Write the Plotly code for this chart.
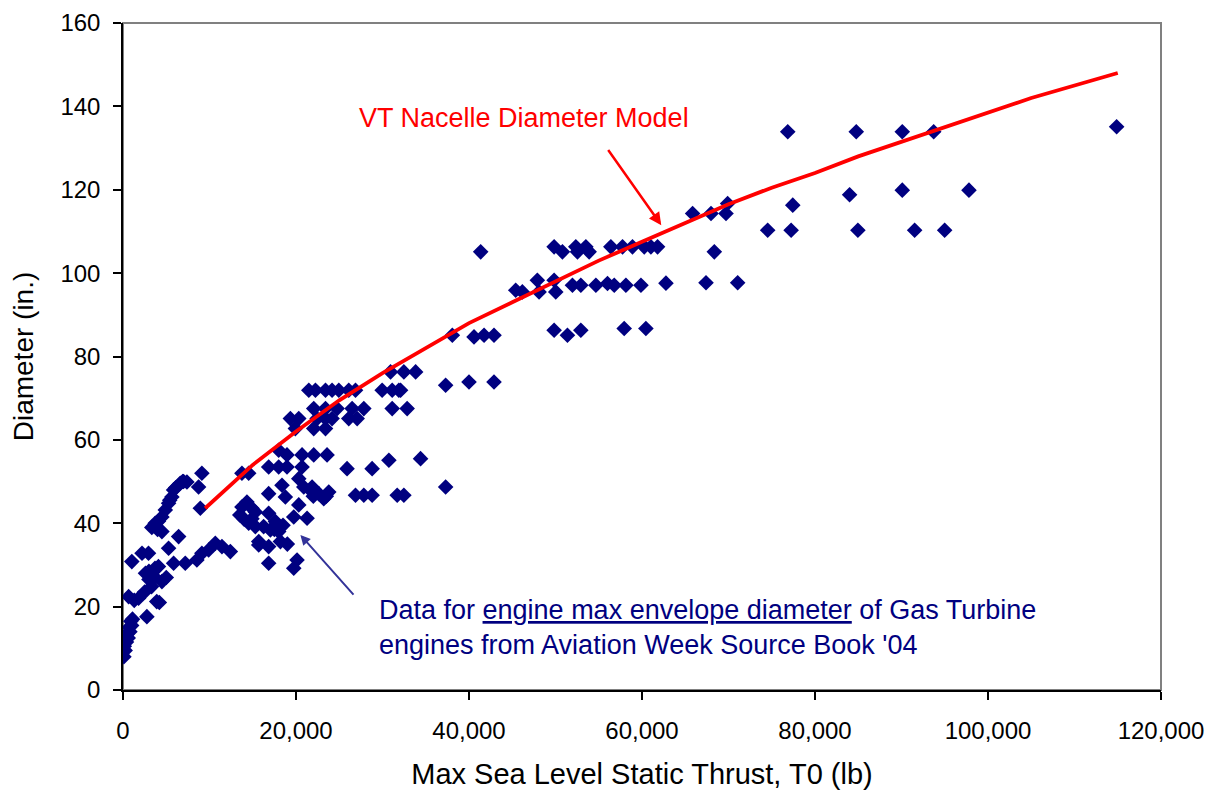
import plotly.graph_objects as go

# Engine data: max sea level static thrust (lb) and max envelope diameter (in.)
thrust_lb = [
    100, 250, 150, 400, 300, 600, 500, 800, 700, 1000, 900, 1100,
    650, 1300, 1800, 2760, 3900, 4200,
    2500, 3300, 3000, 2600, 3000, 3700, 4100, 5000, 4500, 3700,
    2200, 2950, 1020, 5270, 6430, 5850, 7200, 8540, 9120, 9900, 10670, 11440, 12410,
    3330, 3720, 4100, 4500, 4890, 5270, 5650, 5850, 6620, 7390, 6900, 4500, 8740, 9120, 8940,
    4000, 5400, 6100, 7000,
    13750, 14530, 13750, 14330, 14910, 15300, 14910, 15300, 14530, 15690, 13500, 14000,
    16840, 17620, 17040, 16260, 20320, 19740, 21280, 15690, 16840, 18200, 16840, 20120, 19740,
    18380, 16840, 18770, 20320, 20900, 21860, 22630, 23790, 23210, 21670, 17500, 18500, 19000, 18000,
    16840, 18000, 18960, 20700, 18000, 18960, 20700, 22050, 23590, 25900, 28800, 30740, 34400,
    19930, 22050, 23410, 19350, 20320, 22440, 23410, 24170, 26100, 27070,
    22050, 23410, 24750, 26490, 27840, 31120, 32850,
    21480, 22250, 23410, 24170, 24950, 26100, 26880, 29960, 31120, 32090, 31890,
    30930, 32470, 33830, 37300, 40000, 42890,
    26880, 27840, 28800, 31700, 32470, 37300, 22000, 23500,
    38070, 40580, 41740, 42890, 49840, 51380, 52930, 57940, 60450,
    45400, 46170, 47900, 48100, 49840, 50030, 51960, 52930, 54670, 56010, 56790, 58140, 59880, 62770,
    41350, 49840, 50800, 52350, 52540, 53510, 53890, 56400, 57750, 58900, 60260, 61030, 61800,
    65850, 67980, 69900, 69710, 68360, 67400, 71060, 74530, 77240, 77430, 76850, 84770, 84000,
    84960, 90090, 90090, 91520, 93720, 94990, 97800, 114870,
]
diameter_in = [
    8.0, 9.5, 10.5, 11.5, 12.5, 12.5, 13.5, 14.0, 15.0, 15.5, 16.5, 17.0,
    22.4, 21.5, 22.0, 17.6, 21.2, 21.0,
    23.5, 24.8, 26.5, 28.0, 28.5, 29.2, 29.6, 27.0, 26.0, 27.0,
    32.8, 32.8, 30.8, 34.0, 36.8, 30.4, 30.4, 31.2, 32.8, 33.6, 35.2, 34.4, 33.2,
    39.0, 40.0, 40.5, 41.5, 43.2, 44.8, 46.3, 48.0, 49.6, 49.9, 50.0, 38.0, 48.7, 52.0, 43.6,
    38.5, 45.5, 48.5, 50.0,
    52.0, 52.0, 43.9, 45.1, 43.6, 42.7, 41.1, 39.2, 40.0, 34.8, 42.0, 41.0,
    42.4, 40.4, 38.4, 39.2, 44.4, 41.5, 41.2, 35.6, 34.4, 35.6, 30.4, 31.2, 29.2,
    49.1, 47.1, 46.3, 50.7, 48.7, 48.7, 47.1, 47.5, 45.9, 47.9, 38.5, 39.5, 35.0, 38.0,
    53.5, 53.5, 53.5, 53.5, 57.5, 56.4, 56.4, 56.4, 56.4, 53.1, 53.1, 55.1, 55.5,
    62.7, 62.7, 62.7, 65.1, 65.1, 65.1, 65.1, 65.1, 65.1, 65.1,
    67.5, 67.5, 67.5, 67.5, 67.5, 67.5, 67.5,
    71.9, 71.9, 71.9, 71.9, 71.9, 71.9, 71.9, 71.9, 71.9, 71.9, 71.9,
    76.3, 76.3, 76.3, 73.1, 73.9, 73.9,
    46.7, 46.7, 46.7, 46.7, 46.7, 48.7, 46.5, 46.5,
    85.1, 84.7, 85.1, 85.1, 86.3, 85.1, 86.3, 86.7, 86.7,
    95.9, 95.5, 98.3, 95.5, 98.3, 95.5, 97.1, 97.1, 97.1, 97.5, 97.1, 97.1, 97.1, 97.6,
    105.1, 106.3, 105.1, 106.3, 105.1, 106.3, 105.1, 106.3, 106.3, 106.3, 106.3, 106.3, 106.3,
    114.3, 114.3, 116.7, 114.3, 105.1, 97.7, 97.7, 110.3, 110.3, 116.3, 133.9, 133.9, 118.8,
    110.3, 133.9, 119.9, 110.3, 133.9, 110.3, 119.9, 135.1,
]

# VT nacelle diameter model curve
model_thrust = [9500, 15000, 20000, 25000, 30000, 35000, 40000, 45000, 50000, 55000, 60000,
                65000, 70000, 75000, 80000, 85000, 90000, 95000, 100000, 105000, 110000, 115000]
model_diam = [43.6, 54.0, 62.0, 69.5, 76.0, 82.0, 88.0, 93.0, 98.0, 103.0, 107.5,
              112.0, 116.5, 120.5, 124.0, 128.0, 131.5, 135.0, 138.5, 142.0, 145.0, 148.0]

x_ticks = [0, 20000, 40000, 60000, 80000, 100000, 120000]
x_tick_labels = ["0", "20,000", "40,000", "60,000", "80,000", "100,000", "120,000"]
y_ticks = [0, 20, 40, 60, 80, 100, 120, 140, 160]

FONT = "Liberation Sans, Arial, sans-serif"

fig = go.Figure()
fig.add_trace(go.Scatter(
    x=thrust_lb, y=diameter_in, mode="markers",
    marker=dict(symbol="diamond", size=12, color="#000080", line=dict(width=0)),
    showlegend=False,
))
fig.add_trace(go.Scatter(
    x=model_thrust, y=model_diam, mode="lines",
    line=dict(color="#ff0000", width=3.8),
    showlegend=False,
))

# page body has an 8px margin, so the figure is sized/offset to compensate
fig.update_layout(
    width=1217, height=792,
    margin=dict(l=115, r=64, t=15, b=110, autoexpand=False),
    paper_bgcolor="white", plot_bgcolor="white",
    font=dict(family=FONT, size=24, color="black"),
    xaxis=dict(
        range=[0, 120000], tickvals=x_ticks, ticktext=x_tick_labels, automargin=False,
        showgrid=False, zeroline=False, showline=True, linecolor="black", linewidth=1.5,
        ticks="outside", ticklen=8, tickcolor="black", tickwidth=1.5,
        ticklabelstandoff=10,
        title=dict(text="Max Sea Level Static Thrust, T0 (lb)", font=dict(size=29), standoff=21),
    ),
    yaxis=dict(
        range=[0, 160], tickvals=y_ticks, automargin=False,
        showgrid=False, zeroline=False, showline=True, linecolor="black", linewidth=1.5,
        ticks="outside", ticklen=8, tickcolor="black", tickwidth=1.5,
        ticklabelstandoff=8,
        title=dict(text="Diameter (in.)", font=dict(size=28), standoff=21),
    ),
    shapes=[dict(type="rect", xref="paper", yref="paper", x0=0, x1=1, y0=0, y1=1,
                 line=dict(color="#808080", width=2), layer="below")],
)

fig.add_annotation(
    x=46370, y=137.1, xref="x", yref="y", text="VT Nacelle Diameter Model",
    showarrow=False, font=dict(size=27, color="#ff0000", family=FONT), xanchor="center",
)
fig.add_annotation(
    x=62230, y=111.5, ax=55970, ay=129.9, xref="x", yref="y", axref="x", ayref="y",
    text="", showarrow=True, arrowhead=2, arrowsize=1, arrowwidth=2.5, arrowcolor="#ff0000",
)
fig.add_annotation(
    x=29350, y=14.9, xref="x", yref="y",
    text="Data for <u>engine max envelope diameter</u> of Gas Turbine<br>engines from Aviation Week Source Book '04",
    showarrow=False, align="left", xanchor="left", yanchor="middle",
    font=dict(size=27, color="#000080", family=FONT),
)
fig.add_annotation(
    x=20510, y=37.2, ax=26800, ay=22.5, xref="x", yref="y", axref="x", ayref="y",
    text="", showarrow=True, arrowhead=2, arrowsize=1, arrowwidth=2, arrowcolor="#333399",
)

fig.write_html("out.html")
